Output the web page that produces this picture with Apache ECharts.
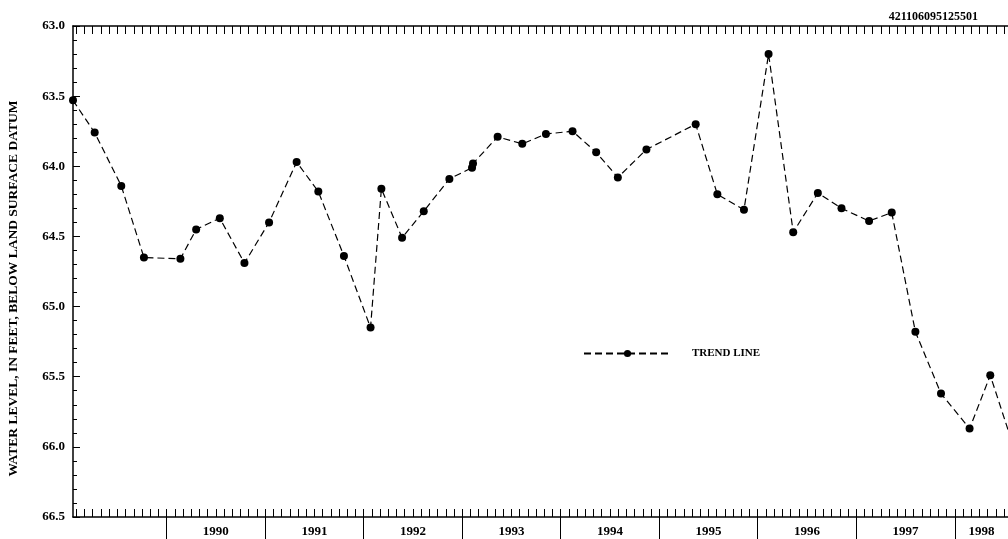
<!DOCTYPE html>
<html>
<head>
<meta charset="utf-8">
<script src="https://cdn.jsdelivr.net/npm/echarts@6/dist/echarts.min.js"></script>
<style>
html,body{margin:0;padding:0;background:#fff;}
#chart{width:1008px;height:539px;}
</style>
</head>
<body>
<div id="chart"></div>
<script>
// Sample dates (decimal years) and water levels (feet below land surface)
const dates = [1989.05, 1989.27, 1989.54, 1989.77, 1990.14, 1990.30, 1990.54, 1990.79, 1991.04, 1991.32,
  1991.54, 1991.80, 1992.07, 1992.18, 1992.39, 1992.61, 1992.87, 1993.10, 1993.11, 1993.36,
  1993.61, 1993.85, 1994.12, 1994.36, 1994.58, 1994.87, 1995.37, 1995.59, 1995.86, 1996.11,
  1996.36, 1996.61, 1996.85, 1997.13, 1997.36, 1997.60, 1997.86, 1998.15, 1998.36, 1998.62];
const levels = [63.53, 63.76, 64.14, 64.65, 64.66, 64.45, 64.37, 64.69, 64.40, 63.97,
  64.18, 64.64, 65.15, 64.16, 64.51, 64.32, 64.09, 64.01, 63.98, 63.79,
  63.84, 63.77, 63.75, 63.90, 64.08, 63.88, 63.70, 64.20, 64.31, 63.20,
  64.47, 64.19, 64.30, 64.39, 64.33, 65.18, 65.62, 65.87, 65.49, 66.05];
const yearLabels = ['1990', '1991', '1992', '1993', '1994', '1995', '1996', '1997', '1998'];
const yTicks = ['63.0', '63.5', '64.0', '64.5', '65.0', '65.5', '66.0', '66.5'];
const stationId = '421106095125501';
const seriesName = 'TREND LINE';
const yTitle = 'WATER LEVEL, IN FEET, BELOW LAND SURFACE DATUM';

const X_MIN = 1989.05, X_MAX = 1998.54;
const FONT = "'Liberation Serif', 'Times New Roman', serif";

// axis helpers
const years = yearLabels.map(Number);
const monthTicks = [];
for (let y = 1989; y <= 1999; y++) {
  for (let m = 0; m < 12; m++) {
    const v = y + m / 12;
    if (v > X_MIN + 0.01 && v < X_MAX - 0.01) monthTicks.push(v);
  }
}
const labelPos = years.map(y => (Math.max(y, X_MIN) + Math.min(y + 1, X_MAX)) / 2);

const chart = echarts.init(document.getElementById('chart'));
const baseX = {
  type: 'value', min: X_MIN, max: X_MAX, splitLine: {show: false}
};
chart.setOption({
  animation: false,
  backgroundColor: '#fff',
  title: {
    text: stationId, right: 25, top: 6,
    textStyle: {fontFamily: FONT, fontSize: 12, fontWeight: 'bold', color: '#000'}
  },
  legend: {
    data: [seriesName], left: 578, top: 343,
    itemWidth: 87, itemHeight: 9,
    textStyle: {fontFamily: FONT, fontSize: 11, fontWeight: 'bold', color: '#000', padding: [0, 0, 0, 16]}
  },
  grid: {left: 73, right: 0, top: 26, bottom: 22, containLabel: false, outerBoundsMode: 'none'},
  xAxis: [
    Object.assign({}, baseX, {
      position: 'bottom',
      axisLine: {show: true, lineStyle: {color: '#000', width: 1.5}},
      axisTick: {show: true, inside: true, length: 8, customValues: monthTicks, lineStyle: {color: '#000', width: 1}},
      axisLabel: {show: false}
    }),
    Object.assign({}, baseX, {
      position: 'bottom',
      axisLine: {show: false},
      axisTick: {show: true, inside: false, length: 24, customValues: years, lineStyle: {color: '#000', width: 1}},
      axisLabel: {
        show: true, customValues: labelPos, margin: 8,
        formatter: v => yearLabels[years.indexOf(Math.floor(v + 1e-6))] || '',
        fontFamily: FONT, fontSize: 13, fontWeight: 'bold', color: '#000'
      }
    }),
    Object.assign({}, baseX, {
      position: 'top',
      axisLine: {show: true, lineStyle: {color: '#000', width: 1.5}},
      axisTick: {show: true, inside: true, length: 8, customValues: monthTicks, lineStyle: {color: '#000', width: 1}},
      axisLabel: {show: false}
    })
  ],
  yAxis: {
    type: 'value', inverse: true, min: 63, max: 66.5, interval: 0.5,
    name: yTitle, nameLocation: 'middle', nameGap: 52, nameRotate: 90,
    nameTextStyle: {fontFamily: FONT, fontSize: 13.5, fontWeight: 'bold', color: '#000', padding: [0, 34, 0, 0]},
    axisLine: {show: true, lineStyle: {color: '#000', width: 1.5}},
    axisTick: {show: true, inside: true, length: 7, lineStyle: {color: '#000', width: 1}},
    minorTick: {show: true, splitNumber: 5, length: 4, lineStyle: {color: '#000', width: 1}},
    splitLine: {show: false},
    axisLabel: {
      margin: 8, fontFamily: FONT, fontSize: 13, fontWeight: 'bold', color: '#000',
      formatter: v => yTicks[Math.round((v - 63) / 0.5)]
    }
  },
  series: [{
    name: seriesName, type: 'line', xAxisIndex: 0,
    data: dates.map((d, i) => [d, levels[i]]),
    symbol: 'circle', symbolSize: 8, clip: true,
    lineStyle: {color: '#000', width: 1.2, type: [7, 4]},
    itemStyle: {color: '#000'}
  }]
});
</script>
</body>
</html>
